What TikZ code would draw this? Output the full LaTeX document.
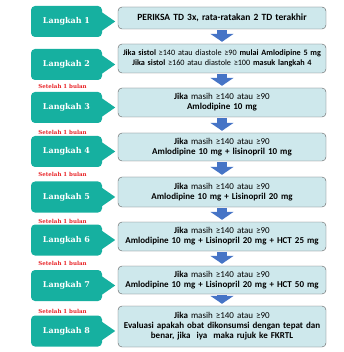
\documentclass[tikz,border=0pt]{standalone}
\usepackage{fontspec}
\setmainfont{Carlito}
\newfontfamily\stepfont{DejaVu Serif}
\usetikzlibrary{arrows.meta}

\definecolor{stepteal}{RGB}{22,176,160}
\definecolor{boxfill}{RGB}{206,232,236}
\definecolor{boxline}{RGB}{95,95,95}
\definecolor{flowblue}{RGB}{70,116,198}
\definecolor{noteRed}{RGB}{232,36,40}

\tikzset{
  langkah/.style={fill=stepteal, rounded corners=4pt, minimum width=71pt, minimum height=31pt,
    text=white, font=\stepfont\bfseries\fontsize{8}{9}\selectfont},
  aksi/.style={draw=boxline, fill=boxfill, rounded corners=4pt, minimum width=208pt,
    text width=204pt, align=center, inner sep=1pt, font=\fontsize{9}{10}\selectfont},
  setelah/.style={text=noteRed, inner sep=0pt, font=\stepfont\bfseries\fontsize{5.5}{6}\selectfont},
  turun/.style={flowblue, line width=10pt, -{Triangle[width=23pt,length=8pt]},
    shorten <=1pt, shorten >=2pt}
}

\begin{document}
\begin{tikzpicture}[x=1pt, y=-1pt]
  \useasboundingbox (0,0) rectangle (343,352);

  % Steps on the left
  \node[langkah] (l1) at (66.5,21.5) {Langkah 1};
  \node[langkah] (l2) at (66.5,64.5) {Langkah 2};
  \node[langkah] (l3) at (66.5,107.5) {Langkah 3};
  \node[langkah] (l4) at (66.5,151.5) {Langkah 4};
  \node[langkah] (l5) at (66.5,197) {Langkah 5};
  \node[langkah] (l6) at (66.5,240) {Langkah 6};
  \node[langkah] (l7) at (66.5,285.5) {Langkah 7};
  \node[langkah] (l8) at (66.5,331) {Langkah 8};

  % Pointers of the step callouts
  \foreach \s in {l1,l2,l3,l4,l5,l6,l7,l8}
    \fill[stepteal] ([xshift=-1pt,yshift=-6pt]\s.north east) -- ([xshift=13pt]\s.east)
      -- ([xshift=-1pt,yshift=6pt]\s.south east) -- cycle;

  % Waiting notes
  \node[setelah] (w2) at (62.5,86) {Setelah 1 bulan};
  \node[setelah] (w3) at (62.5,132) {Setelah 1 bulan};
  \node[setelah] (w4) at (62.5,174) {Setelah 1 bulan};
  \node[setelah] (w5) at (62.5,221) {Setelah 1 bulan};
  \node[setelah] (w6) at (62.5,263) {Setelah 1 bulan};
  \node[setelah] (w7) at (62.5,311) {Setelah 1 bulan};

  % Actions on the right
  \node[aksi, minimum height=22pt, font=\fontsize{9.5}{10}\selectfont] (a1) at (222,18) {\textbf{PERIKSA TD 3x, rata-ratakan 2 TD terakhir}};
  \node[aksi, minimum height=29pt, font=\fontsize{8.2}{10}\selectfont] (a2) at (222,58.5) {\textbf{Jika sistol} ≥140 atau diastole ≥90 \textbf{mulai Amlodipine 5 mg}\\
    \textbf{Jika sistol} ≥160 atau diastole ≥100 \textbf{masuk langkah 4}};
  \node[aksi, minimum height=29pt] (a3) at (222,102.5) {\textbf{Jika} masih ≥140 atau ≥90\\ \textbf{Amlodipine 10 mg}};
  \node[aksi, minimum height=28pt] (a4) at (222,147) {\textbf{Jika} masih ≥140 atau ≥90\\ \textbf{Amlodipine 10 mg + lisinopril 10 mg}};
  \node[aksi, minimum height=30pt] (a5) at (222,192) {\textbf{Jika} masih ≥140 atau ≥90\\ \textbf{Amlodipine 10 mg + Lisinopril 20 mg}};
  \node[aksi, minimum height=29pt] (a6) at (222,236.5) {\textbf{Jika} masih ≥140 atau ≥90\\ \textbf{Amlodipine 10 mg + Lisinopril 20 mg + HCT 25 mg}};
  \node[aksi, minimum height=28pt] (a7) at (222,280) {\textbf{Jika} masih ≥140 atau ≥90\\ \textbf{Amlodipine 10 mg + Lisinopril 20 mg + HCT 50 mg}};
  \node[aksi, minimum height=41pt] (a8) at (222,326.5) {\textbf{Jika} masih ≥140 atau ≥90\\
    \textbf{Evaluasi apakah obat dikonsumsi dengan tepat dan}\\ \textbf{benar, jika~ iya~ maka rujuk ke FKRTL}};

  % Flow arrows
  \draw[turun] (a1) -- (a2);
  \draw[turun] (a2) -- (a3);
  \draw[turun] (a3) -- (a4);
  \draw[turun] (a4) -- (a5);
  \draw[turun] (a5) -- (a6);
  \draw[turun] (a6) -- (a7);
  \draw[turun] (a7) -- (a8);
\end{tikzpicture}
\end{document}
